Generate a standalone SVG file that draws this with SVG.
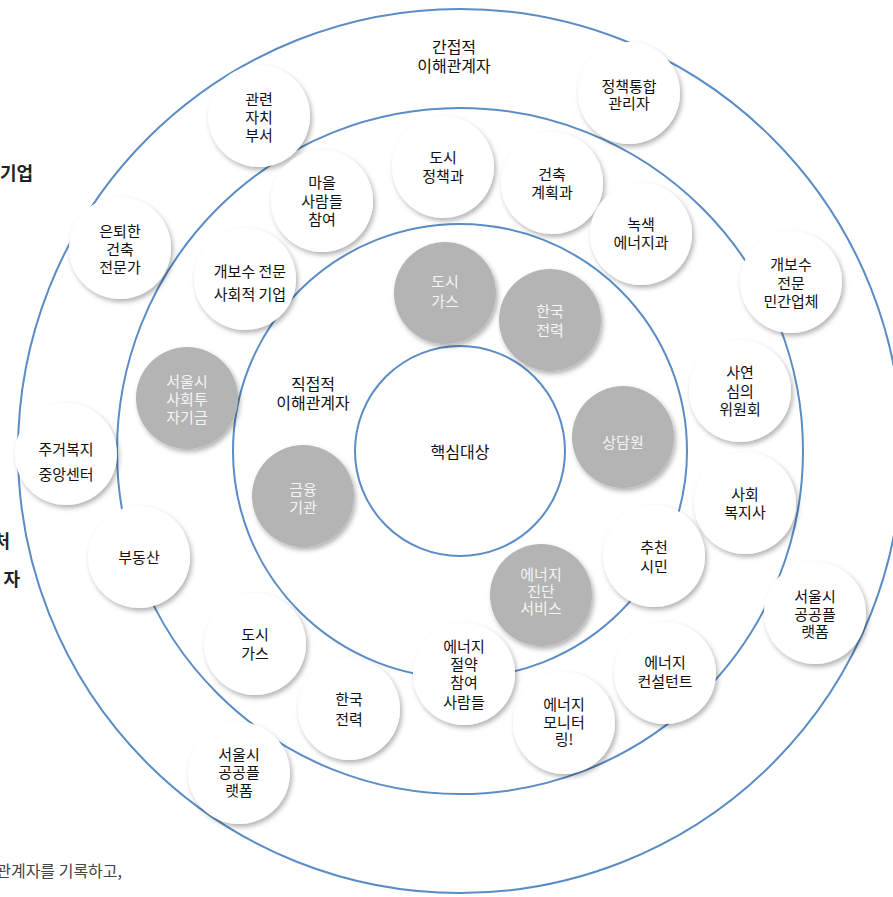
<svg xmlns="http://www.w3.org/2000/svg" width="893" height="897" viewBox="0 0 893 897">
<defs>
<filter id="sh" x="-30%" y="-30%" width="160%" height="160%">
<feDropShadow dx="2" dy="3" stdDeviation="2.5" flood-color="#000" flood-opacity="0.3"/>
</filter>
<style>
.ring{fill:none;stroke:#5a8cc6;stroke-width:2}
.w{fill:#fff;filter:url(#sh)}
.g{fill:#b3b4b3;filter:url(#sh)}
text{font-family:"Noto Sans CJK KR","Noto Sans",sans-serif}
.t{font-size:15px;fill:#111;text-anchor:middle}
.tg{font-size:15px;fill:#f4f4f4;text-anchor:middle}
.lab{font-size:16px;fill:#111;text-anchor:middle}
.edge{font-size:18px;font-weight:700;fill:#222}
.foot{font-size:16px;fill:#444}
</style>
</defs>
<rect width="893" height="897" fill="#fff"/>
<g id="connectors">
<circle class="ring" cx="460" cy="451" r="442"/>
<circle class="ring" cx="460" cy="451" r="343"/>
<circle class="ring" cx="460" cy="451" r="227"/>
<circle class="ring" cx="460" cy="451" r="105"/>
</g>
<g id="labels">
<text class="lab" x="454" y="53">간접적</text>
<text class="lab" x="454" y="72">이해관계자</text>
<text class="lab" x="313" y="390">직접적</text>
<text class="lab" x="313" y="409">이해관계자</text>
<text class="edge" x="0" y="180">기업</text>
<text class="edge" x="10" y="548" text-anchor="end">처</text>
<text class="edge" x="20" y="586" text-anchor="end">자</text>
<text class="foot" x="122" y="877" text-anchor="end">관계자를 기록하고,</text>
</g>
<g id="core"><text class="lab" x="460" y="458">핵심대상</text></g>
<g id="n1"><circle class="w" cx="259" cy="116" r="51"/><text class="t"><tspan x="259" y="105">관련</tspan><tspan x="259" y="123">자치</tspan><tspan x="259" y="141">부서</tspan></text></g>
<g id="n2"><circle class="w" cx="322" cy="201" r="51"/><text class="t"><tspan x="322" y="188">마을</tspan><tspan x="322" y="207">사람들</tspan><tspan x="322" y="225">참여</tspan></text></g>
<g id="n3"><circle class="w" cx="443" cy="167" r="51"/><text class="t"><tspan x="443" y="163">도시</tspan><tspan x="443" y="182">정책과</tspan></text></g>
<g id="n4"><circle class="w" cx="552" cy="183" r="51"/><text class="t"><tspan x="552" y="180">건축</tspan><tspan x="552" y="198">계획과</tspan></text></g>
<g id="n5"><circle class="w" cx="629" cy="93" r="51"/><text class="t"><tspan x="629" y="92">정책통합</tspan><tspan x="629" y="109">관리자</tspan></text></g>
<g id="n6"><circle class="w" cx="641" cy="234" r="51"/><text class="t"><tspan x="641" y="230">녹색</tspan><tspan x="641" y="248">에너지과</tspan></text></g>
<g id="n7"><circle class="w" cx="791" cy="282" r="51"/><text class="t"><tspan x="791" y="270">개보수</tspan><tspan x="791" y="289">전문</tspan><tspan x="791" y="307">민간업체</tspan></text></g>
<g id="n8"><circle class="w" cx="120" cy="248" r="51"/><text class="t"><tspan x="120" y="237">은퇴한</tspan><tspan x="120" y="255">건축</tspan><tspan x="120" y="273">전문가</tspan></text></g>
<g id="n9"><circle class="w" cx="245" cy="279" r="51"/><text class="t"><tspan x="250" y="277">개보수 전문</tspan><tspan x="250" y="300">사회적 기업</tspan></text></g>
<g id="n10"><circle class="g" cx="187" cy="398" r="51"/><text class="tg"><tspan x="187" y="387">서울시</tspan><tspan x="187" y="405">사회투</tspan><tspan x="187" y="423">자기금</tspan></text></g>
<g id="n11"><circle class="w" cx="66" cy="454" r="51"/><text class="t"><tspan x="66" y="455">주거복지</tspan><tspan x="66" y="480">중앙센터</tspan></text></g>
<g id="n12"><circle class="g" cx="445" cy="293" r="51"/><text class="tg"><tspan x="445" y="287">도시</tspan><tspan x="445" y="307">가스</tspan></text></g>
<g id="n13"><circle class="g" cx="550" cy="320" r="51"/><text class="tg"><tspan x="550" y="317">한국</tspan><tspan x="550" y="336">전력</tspan></text></g>
<g id="n14"><circle class="g" cx="623" cy="437" r="51"/><text class="tg"><tspan x="623" y="448">상담원</tspan></text></g>
<g id="n15"><circle class="g" cx="303" cy="496" r="51"/><text class="tg"><tspan x="303" y="495">금융</tspan><tspan x="303" y="513">기관</tspan></text></g>
<g id="n16"><circle class="w" cx="740" cy="391" r="51"/><text class="t"><tspan x="740" y="378">사연</tspan><tspan x="740" y="397">심의</tspan><tspan x="740" y="415">위원회</tspan></text></g>
<g id="n17"><circle class="w" cx="745" cy="503" r="51"/><text class="t"><tspan x="745" y="500">사회</tspan><tspan x="745" y="518">복지사</tspan></text></g>
<g id="n18"><circle class="w" cx="654" cy="556" r="51"/><text class="t"><tspan x="654" y="553">추천</tspan><tspan x="654" y="572">시민</tspan></text></g>
<g id="n19"><circle class="w" cx="815" cy="613" r="51"/><text class="t"><tspan x="815" y="602">서울시</tspan><tspan x="815" y="620">공공플</tspan><tspan x="815" y="637">랫폼</tspan></text></g>
<g id="n20"><circle class="w" cx="139" cy="557" r="51"/><text class="t"><tspan x="139" y="563">부동산</tspan></text></g>
<g id="n21"><circle class="w" cx="255" cy="644" r="51"/><text class="t"><tspan x="255" y="640">도시</tspan><tspan x="255" y="659">가스</tspan></text></g>
<g id="n22"><circle class="w" cx="349" cy="709" r="51"/><text class="t"><tspan x="349" y="705">한국</tspan><tspan x="349" y="725">전력</tspan></text></g>
<g id="n23"><circle class="w" cx="239" cy="773" r="51"/><text class="t"><tspan x="239" y="760">서울시</tspan><tspan x="239" y="778">공공플</tspan><tspan x="239" y="796">랫폼</tspan></text></g>
<g id="n24"><circle class="g" cx="541" cy="595" r="51"/><text class="tg"><tspan x="541" y="580">에너지</tspan><tspan x="541" y="597">진단</tspan><tspan x="541" y="614">서비스</tspan></text></g>
<g id="n25"><circle class="w" cx="464" cy="674" r="51"/><text class="t"><tspan x="464" y="652">에너지</tspan><tspan x="464" y="670">절약</tspan><tspan x="464" y="688">참여</tspan><tspan x="464" y="708">사람들</tspan></text></g>
<g id="n26"><circle class="w" cx="564" cy="723" r="51"/><text class="t"><tspan x="564" y="710">에너지</tspan><tspan x="564" y="728">모니터</tspan><tspan x="564" y="745">링!</tspan></text></g>
<g id="n27"><circle class="w" cx="665" cy="673" r="51"/><text class="t"><tspan x="665" y="668">에너지</tspan><tspan x="665" y="687">컨설턴트</tspan></text></g>
</svg>
